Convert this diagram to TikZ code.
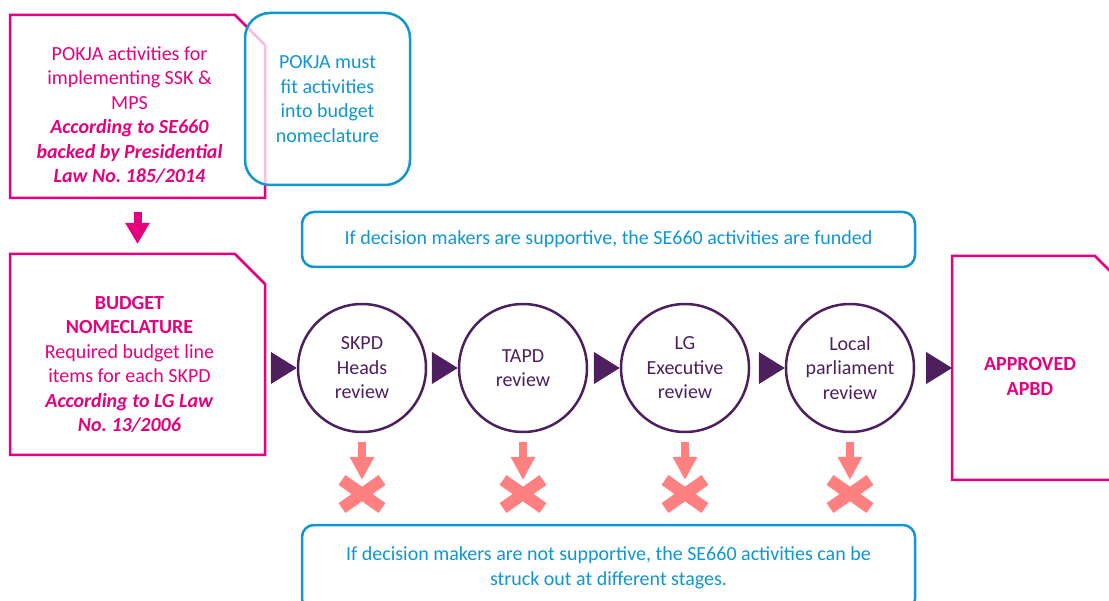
\documentclass[tikz,border=0pt]{standalone}
\usepackage{fontspec}
\setmainfont{Carlito}
\usepackage{tikz}
\usetikzlibrary{shapes,arrows.meta}
\definecolor{lawpink}{HTML}{E6007E}
\definecolor{notebl}{HTML}{1096D2}
\definecolor{revpurple}{HTML}{4D1F5F}
\definecolor{strikered}{HTML}{FF8080}
\newcommand{\lawoutline}[1]{\draw[lawline] (#1.north west) -- ([xshift=-30pt]#1.north east) -- ([yshift=-30pt]#1.north east) -- (#1.south east) -- (#1.south west) -- cycle;}
\frenchspacing

\begin{document}
\begin{tikzpicture}[x=1pt,y=-1pt]
    \tikzstyle{every node}=[font=\fontsize{20}{24.5}\selectfont,align=center]
    \tikzstyle{lawbox}=[rectangle,inner sep=0pt,outer sep=0pt]
    \tikzstyle{lawline}=[draw=lawpink,line width=2.5pt,line join=miter]
    \tikzstyle{lawtext}=[text=lawpink]
    \tikzstyle{notebox}=[rectangle,rounded corners=12pt,draw=notebl,line width=2.5pt,text=notebl,inner sep=0pt,fill=white]
    \tikzstyle{review}=[circle,draw=revpurple,line width=2.5pt,minimum size=128pt,text=revpurple,inner sep=0pt]
    \tikzstyle{flow}=[draw=revpurple,fill=revpurple,line width=1pt,-{Triangle[length=26pt,width=32pt]},shorten <=10pt]
    \tikzstyle{struck}=[cross out,draw=strikered,line width=12pt,minimum width=40pt,minimum height=28pt,inner sep=0pt,outer sep=0pt]
    \tikzstyle{drop}=[draw=strikered,line width=8pt,-{Triangle[length=23pt,width=23pt]},shorten <=9pt]
    \useasboundingbox (0,0) rectangle (1109,601);

    \node[lawbox,minimum width=255pt,minimum height=183pt] (pokja) at (137.5,106.5) {};
    \lawoutline{pokja}
    \node[lawtext] at (129.5,115) {POKJA activities for\\implementing SSK \&\\MPS\\\textbf{\textit{According to SE660}}\\\textbf{\textit{backed by Presidential}}\\\textbf{\textit{Law No. 185/2014}}};
    \node[notebox,rounded corners=25pt,fill opacity=0.75,text opacity=1,minimum width=165pt,minimum height=172pt] (fit) at (327.5,99) {POKJA must\\fit activities\\into budget\\nomeclature};

    \node[lawbox,minimum width=255pt,minimum height=201pt] (budget) at (137.5,354.5) {};
    \lawoutline{budget}
    \node[lawtext] at (129.5,364.5) {\textbf{BUDGET}\\\textbf{NOMECLATURE}\\Required budget line\\items for each SKPD\\\textbf{\textit{According to LG Law}}\\\textbf{\textit{No. 13/2006}}};

    \node[lawbox,minimum width=173pt,minimum height=224pt] (apbd) at (1038.5,368) {};
    \lawoutline{apbd}
    \node[lawtext] at (1030,376.5) {\textbf{APPROVED}\\\textbf{APBD}};

    \node[notebox,minimum width=613pt,minimum height=55pt] (funded) at (608.5,239.5) {If decision makers are supportive, the SE660 activities are funded};
    \node[notebox,minimum width=613pt,minimum height=86pt] (struckout) at (608.5,568) {If decision makers are not supportive, the SE660 activities can be\\struck out at different stages.};

    \node[review] (skpd) at (362,368) {SKPD\\Heads\\review};
    \node[review] (tapd) at (523,368) {TAPD\\review};
    \node[review] (lgexec) at (685,368) {LG\\Executive\\review};
    \node[review] (dprd) at (850,368) {Local\\parliament\\review};

    \draw[draw=lawpink,line width=8pt,-{Triangle[length=21pt,width=23pt]},shorten <=14pt,shorten >=10pt] (pokja.south) -- (budget.north);

    \draw[flow] (budget.east |- skpd.west) -- (skpd.west);
    \draw[flow] (skpd) -- (tapd);
    \draw[flow] (tapd) -- (lgexec);
    \draw[flow] (lgexec) -- (dprd);
    \draw[flow,shorten <=14pt] (dprd.east) -- (apbd.west |- dprd.east);

    \foreach \stage/\x in {skpd/362,tapd/523,lgexec/685,dprd/850}{
      \node[struck] (x\stage) at (\x,494) {};
      \draw[drop] (\stage.south) -- (x\stage.north);
    }
\end{tikzpicture}
\end{document}
